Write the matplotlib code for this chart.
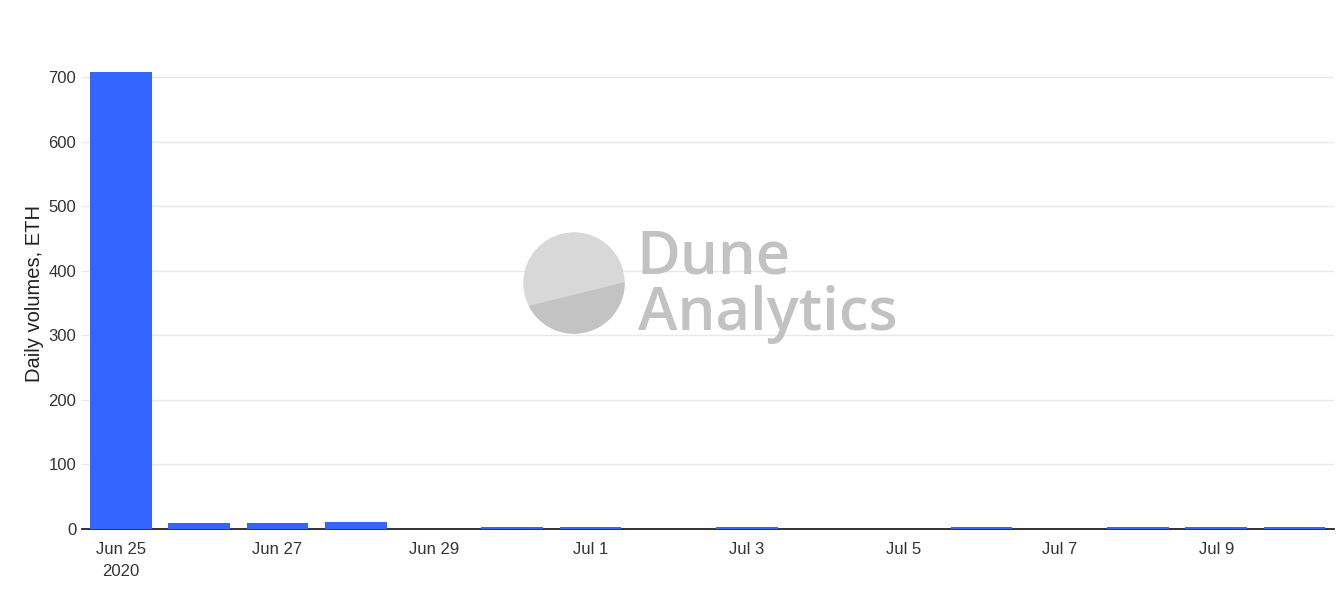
import numpy as np
import matplotlib.pyplot as plt
from matplotlib.patches import Circle, Polygon

days = ["Jun 25", "Jun 26", "Jun 27", "Jun 28", "Jun 29", "Jun 30", "Jul 1", "Jul 2",
        "Jul 3", "Jul 4", "Jul 5", "Jul 6", "Jul 7", "Jul 8", "Jul 9", "Jul 10"]
volumes = [708, 9.5, 9.5, 11, 0, 3, 3, 0, 3, 0, 0, 3, 0, 3, 3, 3]
tick_labels = ["Jun 25\n2020", "Jun 27", "Jun 29", "Jul 1", "Jul 3", "Jul 5", "Jul 7", "Jul 9"]

plt.rcParams['font.family'] = ['Liberation Sans', 'DejaVu Sans']

fig = plt.figure(figsize=(13.43, 6), dpi=100)
ax = fig.add_axes([0.061, 0.1183, 0.932, 0.785])

x = np.arange(len(days))
ax.bar(x, volumes, width=0.79, color="#3366ff", zorder=5)

ax.set_xlim(-0.5, len(days) - 0.5)
ax.set_ylim(0, 730)
ax.set_yticks([0, 100, 200, 300, 400, 500, 600, 700])
ax.set_xticks(x[::2])
ax.set_xticklabels(tick_labels, linespacing=1.65)
ax.tick_params(axis="both", length=0, labelsize=12, colors="#333333")
ax.tick_params(axis="x", pad=9)
ax.tick_params(axis="y", pad=4)
ax.grid(axis="y", color="#e8e8e8", linewidth=1, zorder=0)
for s in ["top", "right", "left"]:
    ax.spines[s].set_visible(False)
ax.spines["bottom"].set_color("#222222")
ax.spines["bottom"].set_linewidth(1.3)
ax.spines["bottom"].set_zorder(4)
ax.set_ylabel("Daily volumes, ETH", fontsize=14.5, color="#222222", labelpad=3)

# watermark (pixel coords, y up)
wax = fig.add_axes([0, 0, 1, 1], facecolor="none")
wax.set_xlim(0, 1343)
wax.set_ylim(0, 600)
wax.axis("off")
cx, cy, r = 574, 600 - 283, 50
wax.add_patch(Circle((cx, cy), r, color="#d8d8d8", zorder=1))
ang = np.radians(np.linspace(208, 360, 80))
wax.add_patch(Polygon(np.column_stack([cx + r * np.cos(ang), cy + r * np.sin(ang)]),
                      closed=True, color="#c3c3c3", zorder=2))
wax.text(636, 600 - 258, "Dune", fontsize=43, color="#c2c2c2", family=["Open Sans", "DejaVu Sans"],
         weight="semibold", va="center", ha="left")
wax.text(638, 600 - 314, "Analytics", fontsize=43, color="#c2c2c2", family=["Open Sans", "DejaVu Sans"],
         weight="semibold", va="center", ha="left")

fig.savefig("out.png", dpi=100)
